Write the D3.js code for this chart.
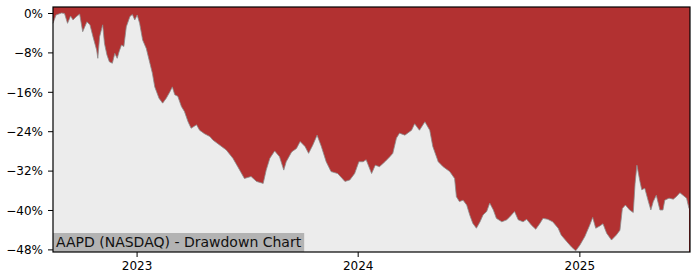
<!DOCTYPE html>
<html><head><meta charset="utf-8">
<script src="https://cdn.jsdelivr.net/npm/d3@7/dist/d3.min.js"></script>
<style>body{margin:0;background:#fff;} svg{display:block;font-family:"DejaVu Sans",sans-serif;}</style>
</head><body>
<svg id="chart" width="700" height="280"></svg>
<script>
const dates = ["2022-08-16","2022-08-21","2022-08-30","2022-09-04","2022-09-09","2022-09-14","2022-09-18","2022-09-23","2022-09-29","2022-10-04","2022-10-11","2022-10-16","2022-10-21","2022-10-27","2022-10-29","2022-11-01","2022-11-06","2022-11-09","2022-11-13","2022-11-17","2022-11-22","2022-11-26","2022-11-30","2022-12-03","2022-12-07","2022-12-11","2022-12-15","2022-12-21","2022-12-25","2022-12-29","2023-01-02","2023-01-06","2023-01-11","2023-01-17","2023-01-23","2023-01-27","2023-01-31","2023-02-07","2023-02-13","2023-02-19","2023-02-25","2023-03-01","2023-03-05","2023-03-10","2023-03-16","2023-03-21","2023-03-27","2023-04-01","2023-04-10","2023-04-15","2023-04-23","2023-05-02","2023-05-07","2023-05-29","2023-06-09","2023-06-17","2023-06-28","2023-07-09","2023-07-18","2023-07-29","2023-08-03","2023-08-09","2023-08-17","2023-08-25","2023-09-01","2023-09-05","2023-09-14","2023-09-22","2023-09-28","2023-10-06","2023-10-12","2023-10-19","2023-10-26","2023-11-02","2023-11-10","2023-11-18","2023-11-29","2023-12-11","2023-12-19","2023-12-27","2024-01-03","2024-01-10","2024-01-15","2024-01-24","2024-01-30","2024-02-06","2024-02-15","2024-02-23","2024-02-28","2024-03-05","2024-03-10","2024-03-19","2024-03-30","2024-04-04","2024-04-12","2024-04-21","2024-04-29","2024-05-04","2024-05-13","2024-05-21","2024-06-01","2024-06-09","2024-06-12","2024-06-17","2024-06-23","2024-06-29","2024-07-04","2024-07-09","2024-07-15","2024-07-21","2024-07-26","2024-08-01","2024-08-06","2024-08-12","2024-08-17","2024-08-26","2024-09-03","2024-09-08","2024-09-16","2024-09-22","2024-09-30","2024-10-06","2024-10-14","2024-10-21","2024-10-28","2024-11-02","2024-11-10","2024-11-18","2024-11-27","2024-12-02","2024-12-11","2024-12-19","2024-12-26","2025-01-02","2025-01-10","2025-01-18","2025-01-23","2025-01-28","2025-02-03","2025-02-09","2025-02-15","2025-02-23","2025-03-03","2025-03-09","2025-03-13","2025-03-18","2025-03-25","2025-03-31","2025-04-03","2025-04-06","2025-04-11","2025-04-14","2025-04-19","2025-04-25","2025-04-29","2025-05-03","2025-05-08","2025-05-14","2025-05-19","2025-05-22","2025-05-29","2025-06-05","2025-06-10","2025-06-16","2025-06-21","2025-06-27","2025-07-01"];
const drawdown = [-2.1,-0.4,0,-0.1,-2.1,-0.6,-1.4,-0.8,-0.2,-3.8,-1.8,-2.4,-4.8,-7.5,-9.2,-4.8,-2.4,-6.2,-8.5,-9.9,-10.2,-8.2,-9.2,-7.9,-6.5,-6.8,-2.8,-0.7,-0.3,-1.4,-0.4,-2.1,-5.5,-7.2,-10.2,-12.2,-15,-17.3,-18.3,-17.3,-16,-15,-16.6,-16.9,-19,-20,-22.1,-23.4,-22.7,-23.8,-24.5,-25.1,-25.8,-27.8,-29.5,-31.2,-33.6,-33.2,-34.2,-34.6,-31.9,-29.5,-28,-29.2,-31.9,-30.2,-28.2,-27.5,-26.1,-27.1,-28.5,-26.8,-24.8,-27.1,-30.2,-32.2,-32.6,-34.2,-33.9,-32.6,-30.2,-30.2,-29.8,-32.6,-30.9,-31.2,-30.2,-29.2,-28.5,-25.4,-24.4,-24.8,-23.8,-22.5,-23.8,-22.1,-23.8,-27.1,-30.2,-31.2,-32.2,-33.6,-37.3,-38.3,-38,-39,-41,-42.7,-43.7,-42.4,-41,-40.3,-38.6,-40,-41.7,-42.4,-42,-41.4,-40.3,-42,-42.4,-41.9,-43.1,-43.9,-42.7,-41.7,-41.9,-42.4,-43.7,-45.1,-46.4,-47.5,-48.3,-47.1,-45.4,-43.1,-41.5,-43.7,-43.3,-42.8,-44.7,-46.1,-45.1,-44.1,-39.7,-39,-40,-40.5,-34.6,-30.9,-34.2,-35.9,-35.6,-38.3,-40,-38.3,-37,-40,-40,-38,-37.6,-37.8,-37.3,-36.5,-37,-37.6,-39.7];
const yTicks = [0,-8,-16,-24,-32,-40,-48];
const xTickYears = ["2023-01-01","2024-01-01","2025-01-01"];
const titleText = "AAPD (NASDAQ) - Drawdown Chart";

const parse = d3.timeParse("%Y-%m-%d");
const data = dates.map((d,i)=>({date:parse(d), v:drawdown[i]}));

const mL=53, mT=7, mR=690, mB=252;
const svg = d3.select("#chart");
const x = d3.scaleTime().domain(d3.extent(data,d=>d.date)).range([mL, mR-1]);
const y = d3.scaleLinear().domain([-48.53, 1.22]).range([mB, mT]);

svg.append("rect").attr("x",mL).attr("y",mT).attr("width",mR-mL).attr("height",mB-mT).attr("fill","#b23131");

const area = d3.area().x(d=>x(d.date)).y0(mB).y1(d=>y(d.v));
svg.append("path").datum(data).attr("d",area).attr("fill","#ececec");
const line = d3.line().x(d=>x(d.date)).y(d=>y(d.v));
svg.append("path").datum(data).attr("d",line).attr("fill","none").attr("stroke","#8c8c8c").attr("stroke-width",0.8);

// title box
const tg = svg.append("g");
const tt = tg.append("text").attr("x",mL+3).attr("y",mB-5).attr("font-size",14).attr("fill","#111").text(titleText);
const bw = tt.node().getComputedTextLength();
tg.insert("rect","text").attr("x",mL).attr("y",mB-19).attr("width",bw+6).attr("height",19).attr("fill","#b3b3b3");

// axes
const yAxis = d3.axisLeft(y).tickValues(yTicks).tickSize(5).tickPadding(5).tickFormat(d=> (d<0?"\u2212":"")+Math.abs(d)+"%");
const gy = svg.append("g").attr("transform",`translate(${mL},0)`).call(yAxis);
const xAxis = d3.axisBottom(x).tickValues(xTickYears.map(parse)).tickSize(5).tickPadding(4).tickFormat(d3.timeFormat("%Y"));
const gx = svg.append("g").attr("transform",`translate(0,${mB})`).call(xAxis);
[gy,gx].forEach(g=>{
  g.select(".domain").remove();
  g.selectAll("text").attr("font-size",12).attr("fill","#000").attr("font-family","DejaVu Sans, sans-serif");
  g.selectAll("line").attr("stroke","#000").attr("stroke-width",1);
});
gy.selectAll("text").attr("dy","0.35em");

svg.append("rect").attr("x",mL).attr("y",mT).attr("width",mR-mL).attr("height",mB-mT).attr("fill","none").attr("stroke","#000").attr("stroke-width",1.2);
</script>
</body></html>
